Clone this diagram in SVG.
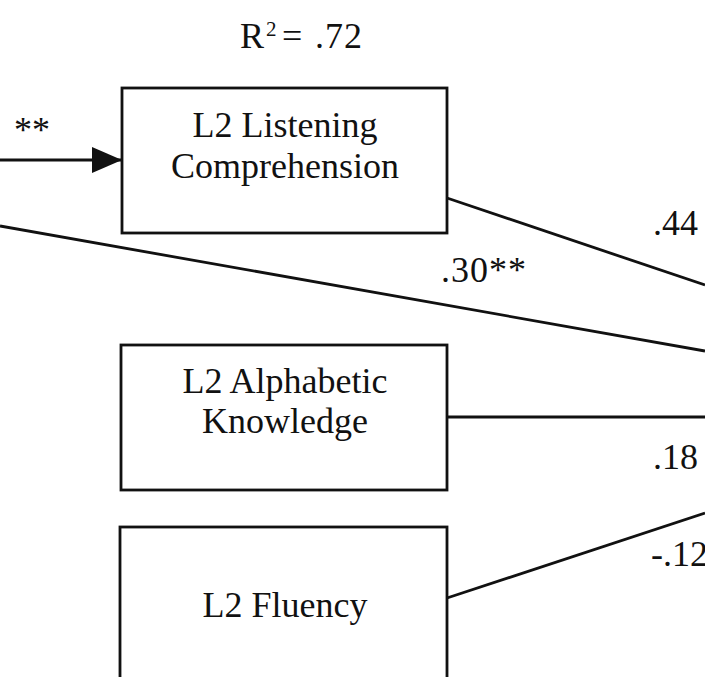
<svg xmlns="http://www.w3.org/2000/svg" width="705" height="677" viewBox="0 0 705 677">
<style>
.box{fill:#fff;stroke:#111;stroke-width:2.8}
.lbl{font-family:"Liberation Serif","Times New Roman",serif;font-size:36px;fill:#111}
.sup{font-family:"Liberation Serif","Times New Roman",serif;font-size:21px;fill:#111}
.mid{text-anchor:middle}
.edge{stroke:#111;stroke-width:2.8;fill:none}
</style>
<defs>
<marker id="arr" markerUnits="userSpaceOnUse" markerWidth="32" markerHeight="28" refX="30" refY="13" orient="auto">
<path d="M0,0 L30,13 L0,26 Z" fill="#111"/>
</marker>
</defs>
<rect width="705" height="677" fill="#fff"/>
<g id="connectors">
<line class="edge" x1="0" y1="160" x2="122" y2="160" marker-end="url(#arr)"/>
<line class="edge" x1="0" y1="226" x2="705" y2="351"/>
<line class="edge" x1="447" y1="198" x2="705" y2="285"/>
<line class="edge" x1="447" y1="417" x2="705" y2="417"/>
<line class="edge" x1="447" y1="598" x2="705" y2="513"/>
</g>
<g id="edge-labels">
<text class="lbl" x="50" y="142" text-anchor="end">**</text>
<text class="lbl" x="441" y="282" letter-spacing="1">.30**</text>
<text class="lbl" x="653" y="235">.44</text>
<text class="lbl" x="653" y="469">.18</text>
<text class="lbl" x="651" y="566">-.12</text>
</g>
<g id="r2">
<text class="lbl" x="240" y="48">R</text>
<text class="sup" x="266" y="36">2</text>
<text class="lbl" x="282" y="48">=</text>
<text class="lbl" x="315" y="48" letter-spacing="1">.72</text>
</g>
<g id="listening">
<rect class="box" x="122" y="88" width="325" height="145"/>
<text class="lbl mid" x="285" y="137">L2 Listening</text>
<text class="lbl mid" x="285" y="178">Comprehension</text>
</g>
<g id="alphabetic">
<rect class="box" x="121" y="345" width="326" height="145"/>
<text class="lbl mid" x="285" y="393">L2 Alphabetic</text>
<text class="lbl mid" x="285" y="433">Knowledge</text>
</g>
<g id="fluency">
<rect class="box" x="120" y="527" width="327" height="200"/>
<text class="lbl mid" x="285" y="617">L2 Fluency</text>
</g>
</svg>
